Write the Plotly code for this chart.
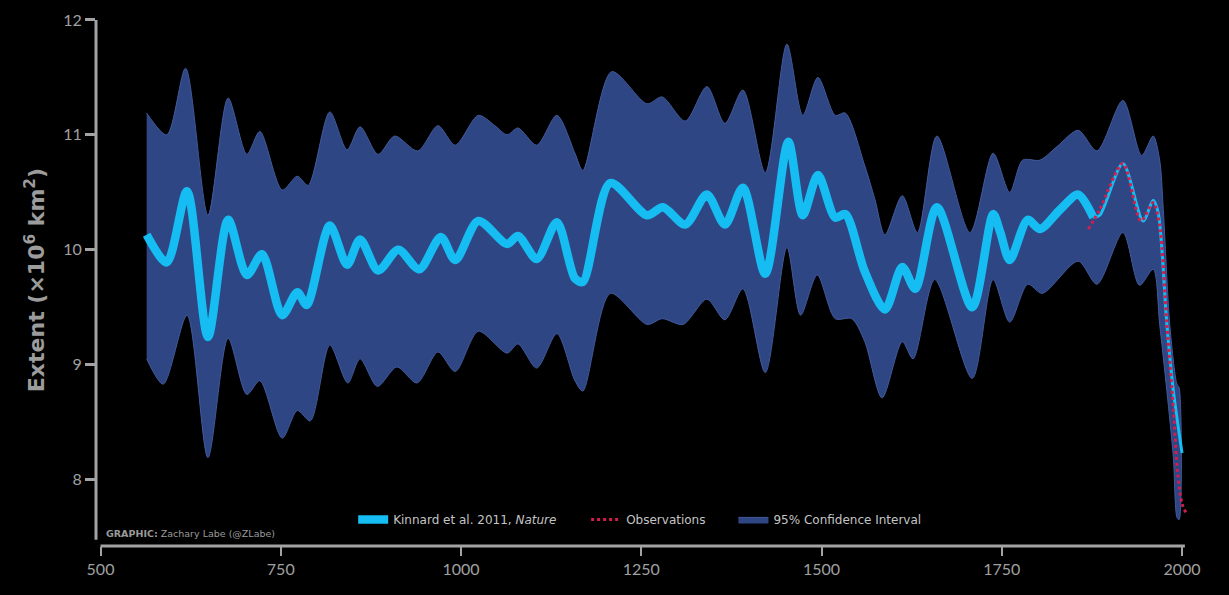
import plotly.graph_objects as go

# Kinnard et al. (2011) reconstructed Arctic sea-ice extent (x10^6 km^2)
kinnard_year = [564, 592, 620, 649, 677, 703, 724, 752, 773, 786, 818, 842, 860, 885,
                913, 942, 972, 992, 1024, 1064, 1079, 1105, 1133, 1158, 1169, 1207,
                1258, 1280, 1311, 1341, 1366, 1391, 1422, 1454, 1474, 1495, 1519, 1533,
                1560, 1588, 1612, 1630, 1660, 1709, 1738, 1748, 1761, 1786, 1803, 1831,
                1856, 1877, 1886, 1918, 1946, 1960, 1967, 1979, 1988, 2000]
kinnard_ext = [10.13, 9.89, 10.51, 9.24, 10.26, 9.78, 9.96, 9.43, 9.63, 9.52, 10.21, 9.87,
               10.09, 9.82, 10.00, 9.83, 10.11, 9.91, 10.25, 10.05, 10.12, 9.92, 10.24,
               9.75, 9.72, 10.58, 10.30, 10.37, 10.22, 10.48, 10.22, 10.54, 9.79, 10.94,
               10.30, 10.65, 10.28, 10.31, 9.81, 9.48, 9.85, 9.66, 10.37, 9.50, 10.31,
               10.15, 9.91, 10.26, 10.18, 10.35, 10.48, 10.28, 10.30, 10.75, 10.25, 10.43,
               10.32, 9.35, 8.77, 8.23]
# year where the observational record takes over (reconstruction drawn thin after it)
overlap_start = 1877

# Observed extent
obs_year = [1870, 1886, 1918, 1943, 1960, 1969, 1979, 1988, 1994, 2000, 2007]
obs_ext = [10.18, 10.35, 10.75, 10.25, 10.41, 10.21, 9.35, 8.62, 8.05, 7.79, 7.69]

# 95% confidence interval bounds
upper_year = [564, 592, 618, 649, 677, 703, 721, 752, 773, 788, 818, 842, 860, 885, 908,
              940, 968, 992, 1024, 1047, 1064, 1079, 1105, 1133, 1158, 1169, 1209, 1258,
              1279, 1311, 1341, 1366, 1391, 1422, 1452, 1474, 1495, 1519, 1533, 1560,
              1574, 1588, 1612, 1633, 1660, 1706, 1738, 1761, 1779, 1803, 1827, 1856,
              1882, 1918, 1944, 1960, 1969, 1974, 1983, 1993, 1996]
upper_ext = [11.19, 11.00, 11.58, 10.30, 11.32, 10.83, 11.03, 10.52, 10.64, 10.56, 11.20,
             10.87, 11.07, 10.83, 10.99, 10.86, 11.08, 10.91, 11.17, 11.08, 11.00, 11.06,
             10.91, 11.17, 10.84, 10.69, 11.55, 11.27, 11.33, 11.12, 11.42, 11.10, 11.39,
             10.67, 11.79, 11.17, 11.50, 11.17, 11.19, 10.73, 10.44, 10.13, 10.47, 10.15,
             10.99, 10.15, 10.84, 10.50, 10.78, 10.78, 10.90, 11.04, 10.86, 11.30, 10.82,
             10.99, 10.78, 10.35, 9.35, 8.83, 8.80]
lower_year = [564, 587, 620, 649, 677, 703, 721, 752, 773, 791, 818, 843, 860, 884, 911,
              939, 968, 992, 1024, 1064, 1079, 1105, 1133, 1158, 1169, 1207, 1258, 1279,
              1308, 1341, 1366, 1391, 1422, 1452, 1471, 1494, 1519, 1542, 1560, 1584,
              1612, 1627, 1657, 1709, 1738, 1761, 1786, 1806, 1856, 1882, 1918, 1941,
              1960, 1969, 1979, 1988, 1993, 1996]
lower_ext = [9.05, 8.83, 9.43, 8.19, 9.23, 8.74, 8.86, 8.36, 8.60, 8.51, 9.17, 8.84, 9.05,
             8.81, 8.98, 8.84, 9.11, 8.94, 9.29, 9.10, 9.18, 8.97, 9.27, 8.86, 8.77, 9.62,
             9.35, 9.40, 9.35, 9.57, 9.39, 9.66, 8.93, 10.02, 9.43, 9.78, 9.40, 9.40, 9.20,
             8.71, 9.20, 9.05, 9.74, 8.88, 9.74, 9.37, 9.70, 9.62, 9.90, 9.70, 10.15, 9.69,
             9.83, 9.35, 8.77, 8.19, 7.67, 7.65]

x_ticks = [500, 750, 1000, 1250, 1500, 1750, 2000]
y_ticks = [8, 9, 10, 11, 12]

AXIS_GREY = "#a3a3a3"
TEXT_GREY = "#a0a0a0"
CYAN = "#16bdf3"
BAND = "rgb(47,70,132)"
LEGEND_FONT = dict(family="DejaVu Sans", size=12, color="#c4c4c4")

fig = go.Figure()

# confidence band as a closed polygon (upper edge, then lower edge reversed)
fig.add_trace(go.Scatter(
    x=upper_year + lower_year[::-1],
    y=upper_ext + lower_ext[::-1],
    fill="toself", fillcolor=BAND,
    line=dict(color="rgb(66,90,155)", width=1, shape="spline", smoothing=0.8),
    mode="lines", name="95% Confidence Interval", legend="legend3",
    hoverinfo="skip",
))

split = next(i for i, y in enumerate(kinnard_year) if y >= overlap_start)

fig.add_trace(go.Scatter(
    x=kinnard_year[:split + 1], y=kinnard_ext[:split + 1],
    mode="lines", line=dict(color=CYAN, width=8.5, shape="spline", smoothing=0.8),
    name="Kinnard et al. 2011, <i>Nature</i>", legend="legend",
))
fig.add_trace(go.Scatter(
    x=kinnard_year[split:], y=kinnard_ext[split:],
    mode="lines", line=dict(color=CYAN, width=3, shape="spline", smoothing=0.8),
    showlegend=False,
))
fig.add_trace(go.Scatter(
    x=obs_year, y=obs_ext,
    mode="lines", line=dict(color="#d31e4b", width=3, dash="dot", shape="spline", smoothing=0.8),
    name="Observations", legend="legend2",
))

# detached spines
fig.add_shape(type="line", xref="paper", yref="y", x0=0, x1=0, y0=12, y1=7.475,
              line=dict(color=AXIS_GREY, width=3))
fig.add_shape(type="line", xref="x", yref="paper", x0=500, x1=2004, y0=0, y1=0,
              line=dict(color=AXIS_GREY, width=3))

fig.add_annotation(
    text="<b>GRAPHIC:</b> Zachary Labe (@ZLabe)",
    xref="paper", yref="paper", x=0.007, y=0.023, xanchor="left", yanchor="middle",
    showarrow=False, font=dict(family="DejaVu Sans", size=9.5, color="#9a9a9a"),
)

legend_common = dict(orientation="h", y=0.05, xanchor="left", yanchor="middle",
                     bgcolor="rgba(0,0,0,0)", font=LEGEND_FONT, itemwidth=30)

fig.update_layout(
    width=1229, height=595,
    margin=dict(l=96, r=34, t=10, b=49),
    paper_bgcolor="#000000", plot_bgcolor="#000000",
    font=dict(family="Lato", color=TEXT_GREY),
    showlegend=True,
    legend=dict(x=0.234, **legend_common),
    legend2=dict(x=0.446, **legend_common),
    legend3=dict(x=0.58, **legend_common),
    xaxis=dict(
        range=[493.76, 2018.0], tickvals=x_ticks, showgrid=False, zeroline=False,
        showline=False, ticks="outside", ticklen=9, tickwidth=2, tickcolor=AXIS_GREY,
        tickfont=dict(size=16, color=TEXT_GREY),
    ),
    yaxis=dict(
        range=[7.421, 12.052], tickvals=y_ticks, showgrid=False, zeroline=False,
        showline=False, ticks="outside", ticklen=10, tickwidth=3, tickcolor=AXIS_GREY,
        tickfont=dict(size=16, color=TEXT_GREY),
        title=dict(text="<b>Extent (\u00d710<sup>6</sup> km<sup>2</sup>)</b>",
                   font=dict(family="DejaVu Sans", size=22, color="#9c9c9c"), standoff=12),
    ),
)

fig.write_html("out.html")
